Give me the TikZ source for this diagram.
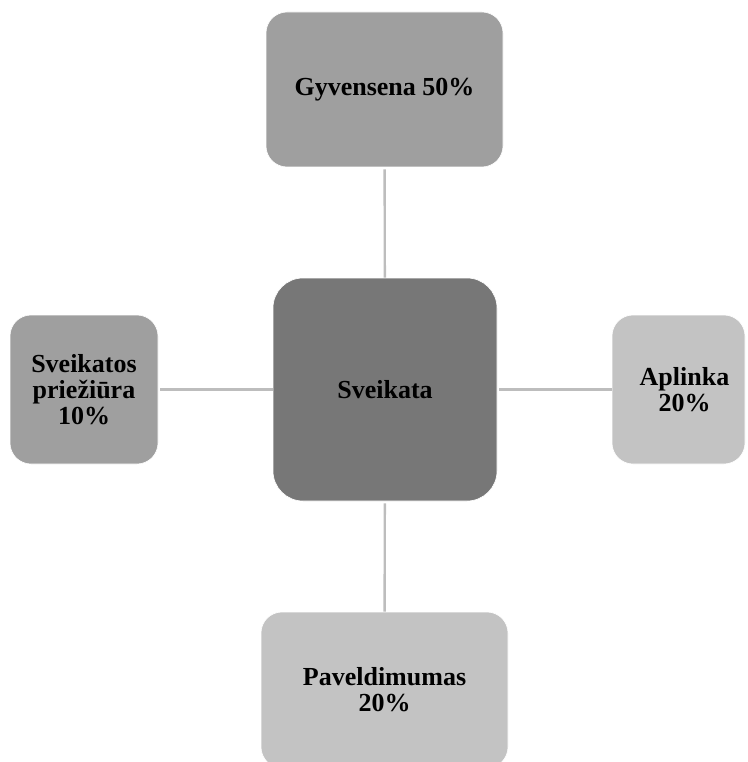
\documentclass[tikz,border=0pt]{standalone}
\usepackage{fontspec}
\setmainfont{Liberation Serif}
\usepackage{xcolor}
\definecolor{hub}{HTML}{777777}
\definecolor{mid}{HTML}{9F9F9F}
\definecolor{pale}{HTML}{C3C3C3}
\definecolor{link}{HTML}{BDBDBD}
\usepackage{tikz}
\usetikzlibrary{positioning}
\tikzstyle{block} = [rectangle, draw=white, line width=0.6pt, fill=mid,
    align=center, rounded corners=21pt, inner sep=0pt,
    font=\bfseries\fontsize{26}{26}\selectfont]
\tikzstyle{line} = [draw=link, line width=2.4pt, shorten <=2pt]

\begin{document}
\begin{tikzpicture}[x=1pt,y=-1pt]
    \useasboundingbox (0,0) rectangle (747,762);
    \clip (0,0) rectangle (747,762);
    % Place nodes
    \node [block, fill=hub, rounded corners=30pt, minimum width=224pt, minimum height=223pt] (hub) at (385,389.5) {Sveikata};
    \node [block, minimum width=237pt, minimum height=155pt] (life) at (384.5,89.5) {Gyvensena 50\%};
    \node [block, minimum width=148pt, minimum height=149pt] (care) at (84,389.5) {Sveikatos\\priežiūra\\10\%};
    \node [block, fill=pale, minimum width=133pt, minimum height=149pt] (env) at (678.5,389.5) {\hspace*{12pt}Aplinka\\\hspace*{12pt}20\%};
    \node [block, fill=pale, minimum width=247pt, minimum height=156pt] (gene) at (384.5,690) {Paveldimumas\\20\%};

    % Draw edges
    \path [line] (life) -- (hub);
    \path [line] (hub) -- (gene);
    \path [line] (care) -- (hub);
    \path [line] (hub) -- (env);
\end{tikzpicture}
\end{document}
